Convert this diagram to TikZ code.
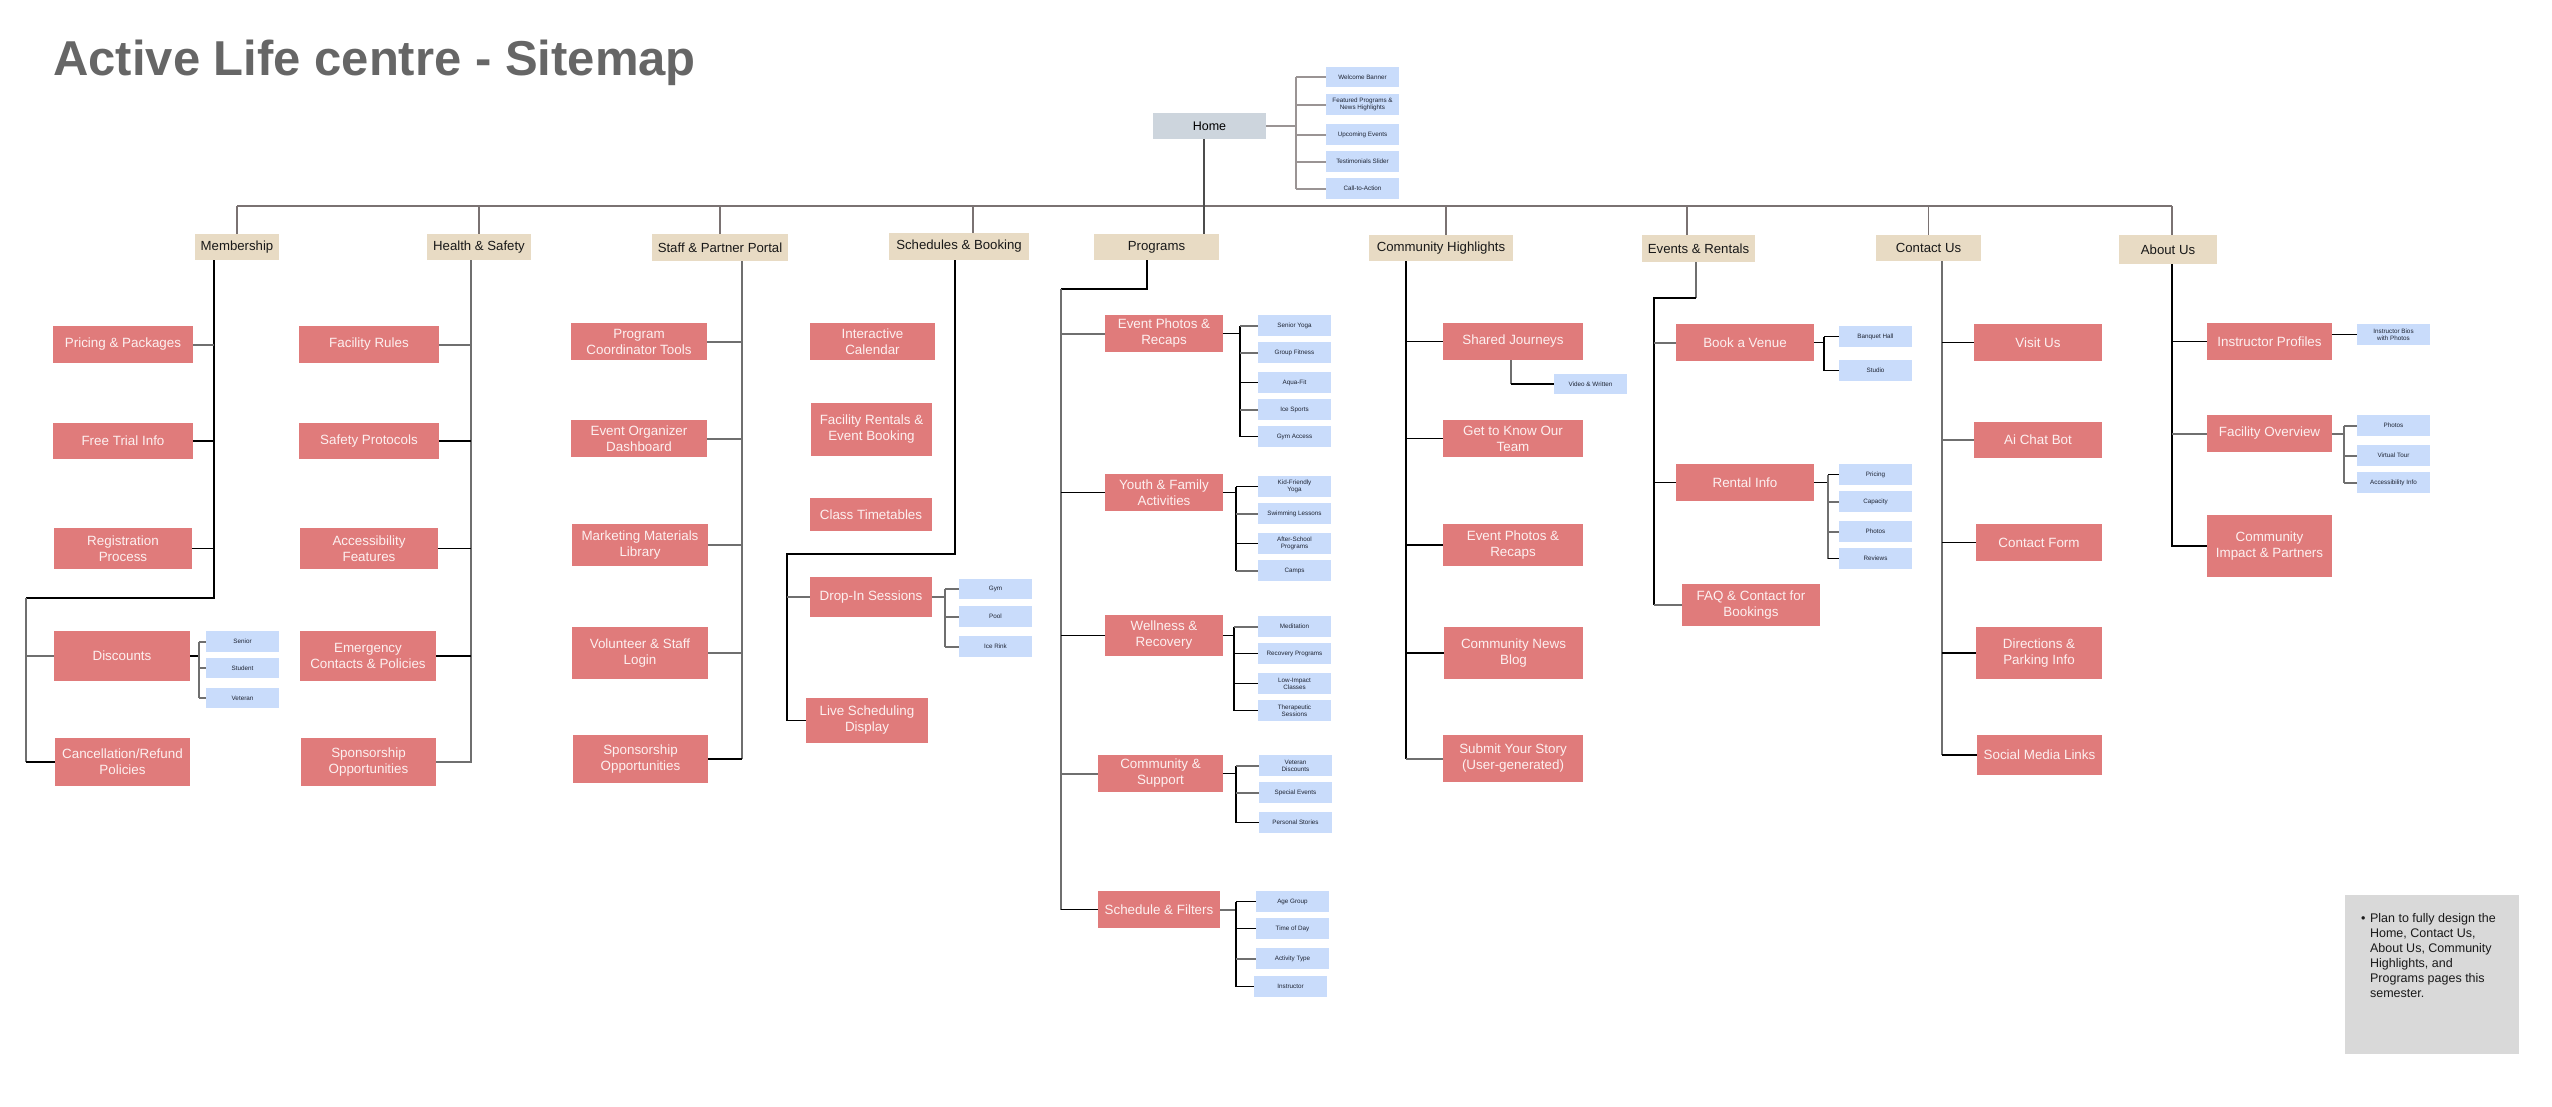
\documentclass[tikz,border=0pt]{standalone}
\usepackage{fontspec}
\setmainfont{Liberation Sans}
\definecolor{redc}{HTML}{E07B7B}
\definecolor{redtxt}{HTML}{FDF0F0}
\definecolor{tanc}{HTML}{E8DBC4}
\definecolor{bluec}{HTML}{C9DCFB}
\definecolor{bluetxt}{HTML}{1E2433}
\definecolor{homec}{HTML}{CDD5DD}
\definecolor{notec}{HTML}{D9D9D9}
\definecolor{titlec}{HTML}{666666}
\definecolor{lgray}{HTML}{6F6F6F}
\definecolor{upc}{HTML}{7A7272}
\definecolor{homeln}{HTML}{9A9494}
\newcommand{\nodebox}[7]{\node[#1,minimum width={(#5)-(#3)},minimum height={(#6)-(#4)}] (#2) at ({((#3)+(#5))/2},{((#4)+(#6))/2}) {#7};}
\begin{document}
\begin{tikzpicture}[x=1pt,y=-1pt,
  rbox/.style={fill=redc,text=redtxt,font=\fontsize{13.4}{16}\selectfont,align=center,inner sep=0pt},
  cbox/.style={fill=tanc,text=black!90,font=\fontsize{13.2}{16}\selectfont,align=center,inner sep=0pt},
  bbox/.style={fill=bluec,text=bluetxt,font=\fontsize{6.3}{7.2}\selectfont,align=center,inner sep=0pt},
  hbox/.style={fill=homec,text=black,font=\fontsize{12.5}{15}\selectfont,inner sep=0pt},
  nbox/.style={fill=notec,inner sep=0pt},
  lk/.style={draw=black,line width=1.1pt},
  lg/.style={draw=lgray,line width=2pt},
  lt/.style={draw=upc,line width=1.3pt}]
\fill[white] (0,0) rectangle (2552,1106);
\useasboundingbox (0,0) rectangle (2552,1106);

% title
\node[anchor=base west,inner sep=0pt,text=titlec,font=\fontsize{49}{58}\selectfont\bfseries] (title) at (53,75) {Active Life centre - Sitemap};

% home
\nodebox{hbox}{home}{1153}{113}{1266}{139}{Home}
\nodebox{bbox}{hwb}{1326}{67}{1399}{87}{Welcome Banner}
\nodebox{bbox}{hfp}{1326}{94}{1399}{115}{Featured Programs \&\\News Highlights}
\nodebox{bbox}{hue}{1326}{124}{1399}{145}{Upcoming Events}
\nodebox{bbox}{hts}{1326}{151}{1399}{172}{Testimonials Slider}
\nodebox{bbox}{hca}{1326}{178}{1399}{199}{Call-to-Action}

% categories
\nodebox{cbox}{mem}{195}{234}{279}{260}{Membership}
\nodebox{cbox}{hs}{427}{234}{531}{260}{Health \& Safety}
\nodebox{cbox}{stf}{652}{234}{788}{261}{Staff \& Partner Portal}
\nodebox{cbox}{sch}{889}{233}{1029}{260}{Schedules \& Booking}
\nodebox{cbox}{prg}{1094}{234}{1219}{260}{Programs}
\nodebox{cbox}{com}{1369}{235}{1513}{261}{Community Highlights}
\nodebox{cbox}{evr}{1642}{235}{1755}{262}{Events \& Rentals}
\nodebox{cbox}{con}{1876}{235}{1981}{261}{Contact Us}
\nodebox{cbox}{abt}{2119}{235}{2217}{264}{About Us}

% membership
\nodebox{rbox}{ppk}{53}{326}{193}{363}{Pricing \& Packages}
\nodebox{rbox}{fti}{53}{423}{193}{459}{Free Trial Info}
\nodebox{rbox}{reg}{54}{528}{192}{569}{Registration\\Process}
\nodebox{rbox}{dis}{54}{631}{190}{681}{Discounts}
\nodebox{rbox}{cxl}{55}{738}{190}{786}{Cancellation/Refund\\Policies}
\nodebox{bbox}{sen}{206}{631}{279}{652}{Senior}
\nodebox{bbox}{stu}{206}{658}{279}{678}{Student}
\nodebox{bbox}{vet}{206}{688}{279}{708}{Veteran}

% health
\nodebox{rbox}{frl}{299}{326}{439}{363}{Facility Rules}
\nodebox{rbox}{spr}{299}{423}{439}{459}{Safety Protocols}
\nodebox{rbox}{acf}{300}{528}{438}{569}{Accessibility\\Features}
\nodebox{rbox}{emc}{300}{631}{436}{681}{Emergency\\Contacts \& Policies}
\nodebox{rbox}{sop}{301}{738}{436}{786}{Sponsorship\\Opportunities}

% staff
\nodebox{rbox}{pct}{571}{323}{707}{360}{Program\\Coordinator Tools}
\nodebox{rbox}{eod}{571}{420}{707}{457}{Event Organizer\\Dashboard}
\nodebox{rbox}{mml}{572}{524}{708}{566}{Marketing Materials\\Library}
\nodebox{rbox}{vsl}{572}{627}{708}{679}{Volunteer \& Staff\\Login}
\nodebox{rbox}{sopb}{573}{735}{708}{783}{Sponsorship\\Opportunities}

% schedules
\nodebox{rbox}{ical}{810}{323}{935}{360}{Interactive\\Calendar}
\nodebox{rbox}{fre}{811}{403}{932}{456}{Facility Rentals \&\\Event Booking}
\nodebox{rbox}{ctt}{810}{498}{932}{531}{Class Timetables}
\nodebox{rbox}{dro}{810}{577}{932}{617}{Drop-In Sessions}
\nodebox{rbox}{lsd}{806}{698}{928}{743}{Live Scheduling\\Display}
\nodebox{bbox}{gym}{959}{579}{1032}{599}{Gym}
\nodebox{bbox}{pool}{959}{606}{1032}{627}{Pool}
\nodebox{bbox}{rink}{959}{636}{1032}{657}{Ice Rink}

% programs
\nodebox{rbox}{epr}{1105}{315}{1223}{352}{Event Photos \&\\Recaps}
\nodebox{rbox}{yfa}{1105}{474}{1223}{511}{Youth \& Family\\Activities}
\nodebox{rbox}{wnr}{1105}{615}{1223}{656}{Wellness \&\\Recovery}
\nodebox{rbox}{cns}{1098}{755}{1223}{792}{Community \&\\Support}
\nodebox{rbox}{snf}{1098}{891}{1220}{928}{Schedule \& Filters}
\nodebox{bbox}{pa}{1258}{315}{1331}{336}{Senior Yoga}
\nodebox{bbox}{pb}{1258}{342}{1331}{363}{Group Fitness}
\nodebox{bbox}{pc}{1258}{372}{1331}{393}{Aqua-Fit}
\nodebox{bbox}{pd}{1258}{399}{1331}{420}{Ice Sports}
\nodebox{bbox}{pe}{1258}{426}{1331}{447}{Gym Access}
\nodebox{bbox}{qa}{1258}{476}{1331}{497}{Kid-Friendly\\Yoga}
\nodebox{bbox}{qb}{1258}{503}{1331}{524}{Swimming Lessons}
\nodebox{bbox}{qc}{1258}{533}{1331}{554}{After-School\\Programs}
\nodebox{bbox}{qd}{1258}{560}{1331}{581}{Camps}
\nodebox{bbox}{ra}{1258}{616}{1331}{637}{Meditation}
\nodebox{bbox}{rb}{1258}{643}{1331}{664}{Recovery Programs}
\nodebox{bbox}{rc}{1258}{673}{1331}{694}{Low-Impact\\Classes}
\nodebox{bbox}{rd}{1258}{700}{1331}{721}{Therapeutic\\Sessions}
\nodebox{bbox}{sa}{1259}{755}{1332}{776}{Veteran\\Discounts}
\nodebox{bbox}{sb}{1259}{782}{1332}{803}{Special Events}
\nodebox{bbox}{sc}{1259}{812}{1332}{833}{Personal Stories}
\nodebox{bbox}{ta}{1256}{891}{1329}{912}{Age Group}
\nodebox{bbox}{tb}{1256}{918}{1329}{939}{Time of Day}
\nodebox{bbox}{tc}{1256}{948}{1329}{969}{Activity Type}
\nodebox{bbox}{td}{1254}{976}{1327}{997}{Instructor}

% community highlights
\nodebox{rbox}{shj}{1443}{323}{1583}{360}{Shared Journeys}
\nodebox{rbox}{gtk}{1443}{420}{1583}{457}{Get to Know Our\\Team}
\nodebox{rbox}{eprb}{1443}{524}{1583}{566}{Event Photos \&\\Recaps}
\nodebox{rbox}{cnb}{1444}{627}{1583}{679}{Community News\\Blog}
\nodebox{rbox}{sys}{1443}{735}{1583}{782}{Submit Your Story\\(User-generated)}
\nodebox{bbox}{vaw}{1554}{374}{1627}{394}{Video \& Written}

% events
\nodebox{rbox}{bav}{1676}{324}{1814}{361}{Book a Venue}
\nodebox{rbox}{rin}{1676}{464}{1814}{501}{Rental Info}
\nodebox{rbox}{faq}{1682}{584}{1820}{626}{FAQ \& Contact for\\Bookings}
\nodebox{bbox}{bqh}{1839}{326}{1912}{347}{Banquet Hall}
\nodebox{bbox}{std}{1839}{360}{1912}{381}{Studio}
\nodebox{bbox}{rpa}{1839}{464}{1912}{485}{Pricing}
\nodebox{bbox}{rpb}{1839}{491}{1912}{512}{Capacity}
\nodebox{bbox}{rpc}{1839}{521}{1912}{542}{Photos}
\nodebox{bbox}{rpd}{1839}{548}{1912}{569}{Reviews}

% contact
\nodebox{rbox}{vis}{1974}{324}{2102}{361}{Visit Us}
\nodebox{rbox}{acb}{1974}{422}{2102}{458}{Ai Chat Bot}
\nodebox{rbox}{cfm}{1976}{524}{2102}{561}{Contact Form}
\nodebox{rbox}{dpi}{1976}{627}{2102}{679}{Directions \&\\Parking Info}
\nodebox{rbox}{sml}{1977}{735}{2102}{775}{Social Media Links}

% about
\nodebox{rbox}{ipf}{2207}{323}{2332}{360}{Instructor Profiles}
\nodebox{rbox}{fov}{2207}{415}{2332}{452}{Facility Overview}
\nodebox{rbox}{cip}{2207}{515}{2332}{577}{Community\\Impact \& Partners}
\nodebox{bbox}{ibp}{2357}{324}{2430}{345}{Instructor Bios\\with Photos}
\nodebox{bbox}{aph}{2357}{415}{2430}{436}{Photos}
\nodebox{bbox}{avt}{2357}{445}{2430}{466}{Virtual Tour}
\nodebox{bbox}{aai}{2357}{472}{2430}{493}{Accessibility Info}

% note
\nodebox{nbox}{note}{2345}{895}{2519}{1054}{}
\node[anchor=north west,inner sep=0pt,align=left,font=\fontsize{12.5}{15}\selectfont,text=black!90] (notetext) at (2361,912)
{\begin{tabular}{@{}l@{\hspace{4.5pt}}l@{}}
• & Plan to fully design the\\
 & Home, Contact Us,\\
 & About Us, Community\\
 & Highlights, and\\
 & Programs pages this\\
 & semester.
\end{tabular}};

% ---------- connectors ----------
\coordinate (busL) at (237,206);
\coordinate (busR) at (2172,206);
\draw[lt] (busL) -- (busR);
\draw[lt] (mem.north) -- (mem.north |- busL);
\draw[lt] (hs.north) -- (hs.north |- busL);
\draw[lt] (stf.north) -- (stf.north |- busL);
\draw[lt] ([xshift=14pt]sch.north) -- ([xshift=14pt]sch.north |- busL);
\draw[lt] ([xshift=5pt]com.north) -- ([xshift=5pt]com.north |- busL);
\draw[lt] ([xshift=-11.5pt]evr.north) -- ([xshift=-11.5pt]evr.north |- busL);
\draw[lt] (con.north) -- (con.north |- busL);
\draw[lt] (abt.north -| busR) -- (busR);
\draw[lt,draw=black!70] ([xshift=-5.5pt]home.south) -- ([xshift=-5.5pt]home.south |- prg.north);

% home children
\coordinate (hx) at (1296,0);
\draw[lg,draw=homeln] (home.east) -- (home.east -| hx);
\draw[lg,draw=homeln] (hwb.west -| hx) -- (hca.west -| hx);
\foreach \n in {hwb,hfp,hue,hts,hca} \draw[lg,draw=homeln] (\n.west) -- (\n.west -| hx);

% membership
\coordinate (m1) at (214,598);
\coordinate (m2) at (26,598);
\draw[lk] (mem.south -| m1) -- (m1) -- (m2);
\draw[lg] (m2) -- (cxl.west -| m2);
\draw[lk] (cxl.west -| m2) -- (cxl.west);
\draw[lg] (ppk.east) -- (ppk.east -| m1);
\draw[lk] (fti.east) -- (fti.east -| m1);
\draw[lk] (reg.east) -- (reg.east -| m1);
\draw[lg] (dis.west) -- (dis.west -| m2);
\coordinate (dbx) at (199,0);
\draw[lk] (dis.east) -- (dis.east -| dbx);
\draw[lg] (sen.west -| dbx) -- (vet.west -| dbx);
\foreach \n in {sen,stu,vet} \draw[lg] (\n.west) -- (\n.west -| dbx);

% health
\coordinate (hsx) at (471,0);
\draw[lg] (hs.south -| hsx) -- (sop.east -| hsx) -- (sop.east);
\draw[lg] (frl.east) -- (frl.east -| hsx);
\draw[lk] (spr.east) -- (spr.east -| hsx);
\draw[lk] (acf.east) -- (acf.east -| hsx);
\draw[lk] (emc.east) -- (emc.east -| hsx);

% staff
\coordinate (stx) at (742,0);
\draw[lg] (stf.south -| stx) -- (sopb.east -| stx);
\draw[lk] (sopb.east -| stx) -- (sopb.east);
\foreach \n in {pct,eod,mml,vsl} \draw[lg] (\n.east) -- (\n.east -| stx);

% schedules
\coordinate (s1) at (955,554);
\coordinate (s2) at (787,554);
\draw[lk] (sch.south -| s1) -- (s1) -- (s2) -- (lsd.west -| s2) -- (lsd.west);
\draw[lg] (dro.west) -- (dro.west -| s2);
\coordinate (drx) at (945,0);
\draw[lg] (dro.east) -- (dro.east -| drx);
\draw[lg] (gym.west -| drx) -- (rink.west -| drx);
\foreach \n in {gym,pool,rink} \draw[lg] (\n.west) -- (\n.west -| drx);

% programs
\coordinate (p1) at (1147,289);
\coordinate (p2) at (1061,289);
\draw[lk] (prg.south -| p1) -- (p1) -- (p2);
\draw[lg] (p2) -- (snf.west -| p2);
\draw[lk] (snf.west -| p2) -- (snf.west);
\draw[lg] (epr.west) -- (epr.west -| p2);
\draw[lk] (yfa.west) -- (yfa.west -| p2);
\draw[lk] (wnr.west) -- (wnr.west -| p2);
\draw[lg] (cns.west) -- (cns.west -| p2);
\coordinate (bx1) at (1240,0);
\draw[lk] (epr.east) -- (epr.east -| bx1);
\draw[lk] (pa.west -| bx1) -- (pe.west -| bx1);
\draw[lg] (pa.west) -- (pa.west -| bx1);
\draw[lg] (pb.west) -- (pb.west -| bx1);
\draw[lk] (pc.west) -- (pc.west -| bx1);
\draw[lg] (pd.west) -- (pd.west -| bx1);
\draw[lk] (pe.west) -- (pe.west -| bx1);
\coordinate (bx2) at (1236,0);
\draw[lk] (yfa.east) -- (yfa.east -| bx2);
\draw[lk] (qa.west -| bx2) -- (qd.west -| bx2);
\draw[lk] (qa.west) -- (qa.west -| bx2);
\draw[lg] (qb.west) -- (qb.west -| bx2);
\draw[lk] (qc.west) -- (qc.west -| bx2);
\draw[lg] (qd.west) -- (qd.west -| bx2);
\coordinate (bx3) at (1234,0);
\draw[lk] (wnr.east) -- (wnr.east -| bx3);
\draw[lk] (ra.west -| bx3) -- (rd.west -| bx3);
\draw[lg] (ra.west) -- (ra.west -| bx3);
\foreach \n in {rb,rc,rd} \draw[lk] (\n.west) -- (\n.west -| bx3);
\coordinate (bx4) at (1236,0);
\draw[lk] (cns.east) -- (cns.east -| bx4);
\draw[lk] (sa.west -| bx4) -- (sc.west -| bx4);
\draw[lg] (sa.west) -- (sa.west -| bx4);
\draw[lg] (sb.west) -- (sb.west -| bx4);
\draw[lk] (sc.west) -- (sc.west -| bx4);
\draw[lg] (snf.east) -- (snf.east -| bx4);
\draw[lk] (ta.west -| bx4) -- (td.west -| bx4);
\draw[lk] (ta.west) -- (ta.west -| bx4);
\draw[lk] (tb.west) -- (tb.west -| bx4);
\draw[lg] (tc.west) -- (tc.west -| bx4);
\draw[lk] (td.west) -- (td.west -| bx4);

% community highlights
\coordinate (chx) at (1406,0);
\draw[lk] (com.south -| chx) -- (sys.west -| chx);
\draw[lg] (sys.west -| chx) -- (sys.west);
\foreach \n in {shj,gtk,eprb,cnb} \draw[lk] (\n.west) -- (\n.west -| chx);
\coordinate (sjx) at (1511,0);
\draw[lg] (shj.south -| sjx) -- (vaw.west -| sjx);
\draw[lk] (vaw.west -| sjx) -- (vaw.west);

% events
\coordinate (e1) at (1696,298);
\coordinate (e2) at (1654,298);
\draw[lg] (evr.south -| e1) -- (e1);
\draw[lk] (e1) -- (e2) -- (faq.west -| e2);
\draw[lg] (faq.west -| e2) -- (faq.west);
\draw[lg] (bav.west) -- (bav.west -| e2);
\draw[lk] (rin.west) -- (rin.west -| e2);
\coordinate (bvx) at (1824,0);
\draw[lk] (bav.east) -- (bav.east -| bvx);
\draw[lk] (bqh.west -| bvx) -- (std.west -| bvx);
\foreach \n in {bqh,std} \draw[lk] (\n.west) -- (\n.west -| bvx);
\coordinate (rix) at (1828,0);
\draw[lk] (rin.east) -- (rin.east -| rix);
\draw[lg] (rpa.west -| rix) -- (rpd.west -| rix);
\draw[lk] (rpa.west) -- (rpa.west -| rix);
\draw[lg] (rpb.west) -- (rpb.west -| rix);
\draw[lg] (rpc.west) -- (rpc.west -| rix);
\draw[lk] (rpd.west) -- (rpd.west -| rix);

% contact
\coordinate (ctx) at (1942,0);
\draw[lg] (con.south -| ctx) -- (sml.west -| ctx);
\foreach \n in {vis,cfm,dpi,sml} \draw[lk] (\n.west) -- (\n.west -| ctx);
\draw[lg] (acb.west) -- (acb.west -| ctx);

% about
\coordinate (abx) at (2172,0);
\draw[lk] (abt.south -| abx) -- (cip.west -| abx) -- (cip.west);
\draw[lk] (ipf.west) -- (ipf.west -| abx);
\draw[lg] (fov.west) -- (fov.west -| abx);
\draw[lk] (ibp.west) -- (ibp.west -| ipf.east);
\coordinate (fbx) at (2344,0);
\draw[lg] (fov.east) -- (fov.east -| fbx);
\draw[lg] (aph.west -| fbx) -- (aai.west -| fbx);
\foreach \n in {aph,avt,aai} \draw[lg] (\n.west) -- (\n.west -| fbx);
\end{tikzpicture}
\end{document}
